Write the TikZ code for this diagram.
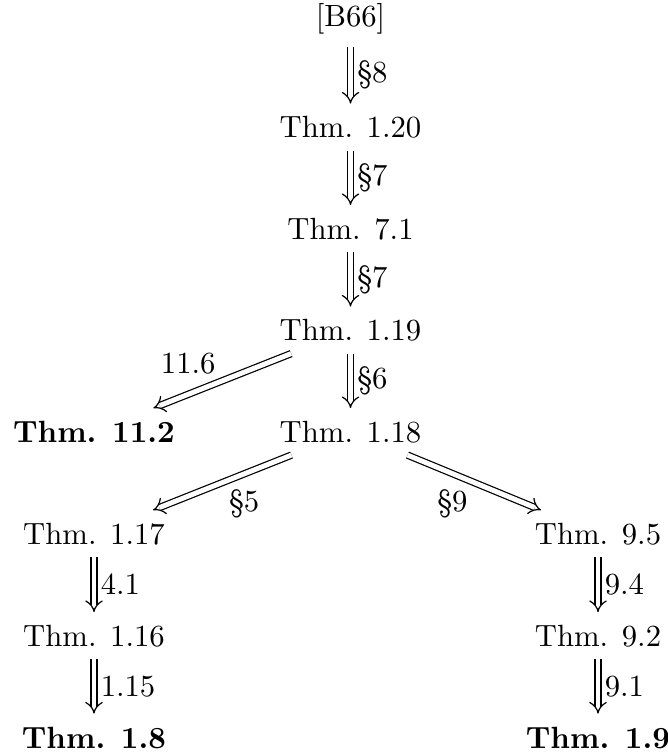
\documentclass[tikz,border=0pt]{standalone}
\usetikzlibrary{arrows.meta}
\begin{document}
\begin{tikzpicture}[x=0.3257pt,y=-0.3257pt,
  thm/.style={inner xsep=3.3pt, inner ysep=3.4pt, text height=7.6pt, text depth=0.5pt, anchor=base},
  imp/.style={double, double distance=1.6pt, line width=0.4pt, -{Implies}},
  lab/.style={inner sep=2pt}]
\useasboundingbox (0,0) rectangle (668,755);
\node[thm, text depth=2.9pt] (b66) at (350.5,27) {[B66]};
\node[thm] (t120) at (350.5,138) {Thm. 1.20};
\node[thm] (t71) at (350.5,239.5) {Thm. 7.1};
\node[thm] (t119) at (350.5,341) {Thm. 1.19};
\node[thm, font=\bfseries] (t112) at (94,442.5) {Thm. 11.2};
\node[thm] (t118) at (350.5,442.5) {Thm. 1.18};
\node[thm] (t117) at (94,544.5) {Thm. 1.17};
\node[thm] (t95) at (598,544.5) {Thm. 9.5};
\node[thm] (t116) at (94,646.5) {Thm. 1.16};
\node[thm] (t92) at (598,646.5) {Thm. 9.2};
\node[thm, font=\bfseries] (t18) at (94,748) {Thm. 1.8};
\node[thm, font=\bfseries] (t19) at (598,748) {Thm. 1.9};
\draw[imp] (b66) -- node[lab, right] {\S8} (t120);
\draw[imp] (t120) -- node[lab, right] {\S7} (t71);
\draw[imp] (t71) -- node[lab, right] {\S7} (t119);
\draw[imp] (t119) -- node[lab, right] {\S6} (t118);
\draw[imp] (t119) -- node[lab, above left] {11.6} (t112);
\draw[imp] (t118) -- node[lab, below right] {\S5} (t117);
\draw[imp] (t118) -- node[lab, below left] {\S9} (t95);
\draw[imp] (t117) -- node[lab, right] {4.1} (t116);
\draw[imp] (t116) -- node[lab, right] {1.15} (t18);
\draw[imp] (t95) -- node[lab, right] {9.4} (t92);
\draw[imp] (t92) -- node[lab, right] {9.1} (t19);
\end{tikzpicture}
\end{document}
